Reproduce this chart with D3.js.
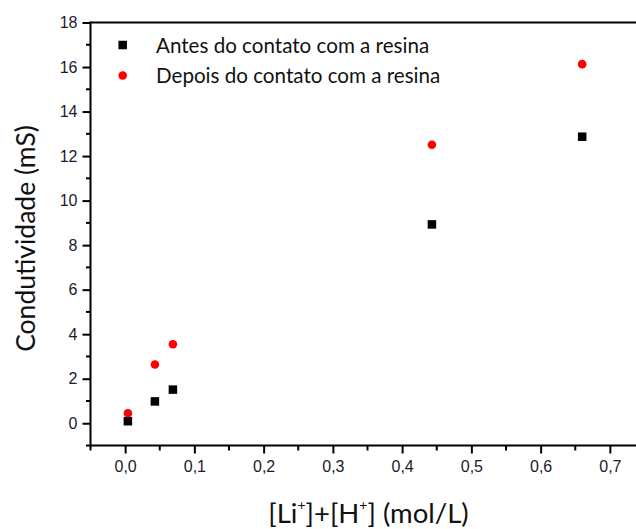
<!DOCTYPE html>
<html>
<head>
<meta charset="utf-8">
<script src="https://cdn.jsdelivr.net/npm/d3@7"></script>
<style>
  html, body { margin: 0; padding: 0; background: #fff; }
  svg { display: block; }
</style>
</head>
<body>
<svg id="chart" width="636" height="529"></svg>
<script>
// ---- data ----
const concentration = [0.004, 0.043, 0.069, 0.443, 0.660];
const antes = [0.09, 0.98, 1.51, 8.93, 12.87];
const depois = [0.45, 2.64, 3.55, 12.51, 16.13];
const seriesNames = ["Antes do contato com a resina", "Depois do contato com a resina"];
const xTicks = [0, 0.1, 0.2, 0.3, 0.4, 0.5, 0.6, 0.7];
const yTicks = [0, 2, 4, 6, 8, 10, 12, 14, 16, 18];
const xTitle = "(mol/L)";
const yTitle = "Condutividade (mS)";

const svg = d3.select("#chart");
const x = d3.scaleLinear().domain([-0.05, 0.75]).range([90.5, 644.5]);
const y = d3.scaleLinear().domain([-1, 18]).range([445.5, 22.5]);

const tickFont = "'Liberation Sans', Arial, sans-serif";
const labelFont = "Lato, 'Open Sans', sans-serif";
const fmtX = d => d3.format(".1f")(d).replace(".", ",");

// x axis
const xAxis = d3.axisBottom(x).tickValues(xTicks).tickFormat(fmtX).tickSize(8).tickPadding(7);
const gx = svg.append("g").attr("transform", `translate(0,${y(-1)})`).call(xAxis);
gx.select(".domain").remove();
gx.selectAll(".tick line").attr("stroke", "#000").attr("stroke-width", 2);
gx.selectAll(".tick text").attr("font-family", tickFont).attr("font-size", 16).attr("fill", "#1a1a2e");
const xMinor = d3.range(-0.05, 0.751, 0.1);
svg.append("g").selectAll("line").data(xMinor).join("line")
  .attr("x1", d => x(d)).attr("x2", d => x(d))
  .attr("y1", y(-1)).attr("y2", y(-1) + 5)
  .attr("stroke", "#000").attr("stroke-width", 2);

// y axis
const yAxis = d3.axisLeft(y).tickValues(yTicks).tickFormat(d3.format("d")).tickSize(8).tickPadding(5);
const gy = svg.append("g").attr("transform", `translate(${x(-0.05)},0)`).call(yAxis);
gy.select(".domain").remove();
gy.selectAll(".tick line").attr("stroke", "#000").attr("stroke-width", 2);
gy.selectAll(".tick text").attr("font-family", tickFont).attr("font-size", 16).attr("fill", "#1a1a2e");
const yMinor = d3.range(-1, 18, 2);
svg.append("g").selectAll("line").data(yMinor).join("line")
  .attr("x1", x(-0.05) - 4.5).attr("x2", x(-0.05))
  .attr("y1", d => y(d)).attr("y2", d => y(d))
  .attr("stroke", "#000").attr("stroke-width", 2);

// frame lines
svg.append("line").attr("x1", x(-0.05)).attr("x2", x(0.75)).attr("y1", y(-1)).attr("y2", y(-1)).attr("stroke", "#000").attr("stroke-width", 2);
svg.append("line").attr("x1", x(-0.05)).attr("x2", x(0.75)).attr("y1", y(18)).attr("y2", y(18)).attr("stroke", "#000").attr("stroke-width", 2);
svg.append("line").attr("x1", x(-0.05)).attr("x2", x(-0.05)).attr("y1", y(18) - 1).attr("y2", y(-1) + 1).attr("stroke", "#000").attr("stroke-width", 2);
svg.append("line").attr("x1", x(0.75)).attr("x2", x(0.75)).attr("y1", y(18) - 1).attr("y2", y(-1) + 1).attr("stroke", "#000").attr("stroke-width", 2);

// data points
const sq = 8.5;
svg.append("g").selectAll("rect").data(concentration.map((c, i) => [c, antes[i]])).join("rect")
  .attr("x", d => x(d[0]) - sq / 2).attr("y", d => y(d[1]) - sq / 2)
  .attr("width", sq).attr("height", sq).attr("fill", "#000");
svg.append("g").selectAll("circle").data(concentration.map((c, i) => [c, depois[i]])).join("circle")
  .attr("cx", d => x(d[0])).attr("cy", d => y(d[1])).attr("r", 4.3).attr("fill", "#ff0000");

// legend
const leg = svg.append("g");
leg.append("rect").attr("x", 122.7 - sq / 2).attr("y", 45 - sq / 2).attr("width", sq).attr("height", sq).attr("fill", "#000");
leg.append("circle").attr("cx", 122.7).attr("cy", 75.5).attr("r", 4.3).attr("fill", "#ff0000");
leg.append("text").attr("x", 156).attr("y", 52.5).attr("font-family", labelFont).attr("font-size", 20.6).attr("fill", "#111").text(seriesNames[0]);
leg.append("text").attr("x", 156).attr("y", 82.5).attr("font-family", labelFont).attr("font-size", 20.6).attr("fill", "#111").text(seriesNames[1]);

// axis titles
svg.append("text").attr("transform", "translate(35,238.5) rotate(-90)").attr("text-anchor", "middle")
  .attr("font-family", labelFont).attr("font-size", 26.5).attr("fill", "#111").text(yTitle);

const xt = svg.append("text").attr("x", 368.5).attr("y", 523).attr("text-anchor", "middle")
  .attr("font-family", labelFont).attr("font-size", 27.5).attr("fill", "#111");
xt.append("tspan").text("[Li");
xt.append("tspan").attr("dy", -13).attr("font-size", 14).text("+");
xt.append("tspan").attr("dy", 13).text("]+[H");
xt.append("tspan").attr("dy", -13).attr("font-size", 14).text("+");
xt.append("tspan").attr("dy", 13).text("] " + xTitle);
</script>
</body>
</html>
